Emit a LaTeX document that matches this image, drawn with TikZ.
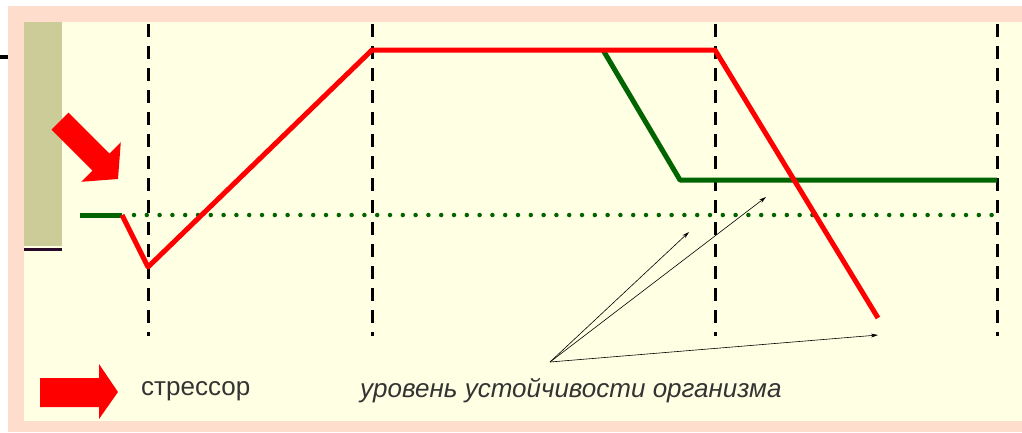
\documentclass[tikz,border=0pt]{standalone}
\usepackage{fontspec}
\setmainfont{Liberation Sans}
\usetikzlibrary{arrows.meta}
\definecolor{peach}{RGB}{255,221,204}
\definecolor{cream}{RGB}{255,255,228}
\definecolor{khaki}{RGB}{204,204,153}
\definecolor{dkpurple}{RGB}{40,10,40}
\definecolor{dgreen}{RGB}{0,100,0}
\definecolor{sred}{RGB}{255,0,0}
\tikzset{
  guide/.style={black, line width=3pt, dash pattern=on 13pt off 9pt},
  redline/.style={sred, line width=5pt, line join=round},
  greenline/.style={dgreen, line width=5pt, line join=round},
  level/.style={dgreen, line width=4.5pt, line cap=round, dash pattern=on 0pt off 12.8pt},
  pointer/.style={black, line width=0.6pt, -{Stealth[length=7pt,width=4pt]}},
  label/.style={font=\fontsize{26}{30}\selectfont, text=black!80, anchor=west, inner sep=0pt}
}
\begin{document}
\begin{tikzpicture}[x=1pt,y=-1pt]
\useasboundingbox (0,0) rectangle (1022,432);
\fill[white] (0,0) rectangle (1022,432);
\fill[peach] (8,6) rectangle (1022,432);
\fill[cream] (24,22) rectangle (1022,421);
% khaki bar
\fill[khaki] (24,22) rectangle (62,246);
\draw[dkpurple, line width=3pt] (24,249) -- (62,249);
\draw[black, line width=4pt] (0,57) -- (8,57);
% guide lines
\foreach \n/\x in {g1/148,g2/372,g3/715,g4/997}{
  \coordinate (\n top) at (\x,24);
  \coordinate (\n bot) at (\x,336);
  \draw[guide] (\n top) -- (\n bot);
}
% level (dotted)
\coordinate (lv1) at (134,215);
\coordinate (lv2) at (997,215);
\draw[level] (lv1) -- (lv2);
% green curve
\coordinate (ga) at (80,215);
\coordinate (gb) at (122,215);
\coordinate (gc) at (603,50);
\coordinate (gd) at (680,180);
\coordinate (ge) at (997,180);
\draw[greenline] (ga) -- (gb);
\draw[greenline] (gc) -- (gd) -- (ge);
% red curve
\coordinate (ra) at (122,215);
\coordinate (rb) at (148,267);
\coordinate (rc) at (372,50);
\coordinate (rd) at (715,50);
\coordinate (re) at (878,318);
\draw[redline] (ra) -- (rb) -- (rc) -- (rd) -- (re);
% diagonal stressor arrow
\fill[sred] (68.5,112.5) -- (109.5,153.5) -- (120.8,142.2) -- (118,179) -- (81.2,181.8) -- (92.5,170.5) -- (51.5,129.5) -- cycle;
% legend arrow
\fill[sred] (40,378) -- (99,378) -- (99,364) -- (118,392) -- (99,419) -- (99,407) -- (40,407) -- cycle;
\node[label] (stress) at (141,391) {стрессор};
\node[label, font=\fontsize{26}{30}\selectfont\itshape] (lvl) at (360,391) {уровень устойчивости организма};
% pointers
\coordinate (src) at (550,362);
\coordinate (t1) at (689,232);
\coordinate (t2) at (766,197);
\coordinate (t3) at (878,335);
\draw[pointer] (src) -- (t1);
\draw[pointer] (src) -- (t2);
\draw[pointer] (src) -- (t3);
\end{tikzpicture}
\end{document}
